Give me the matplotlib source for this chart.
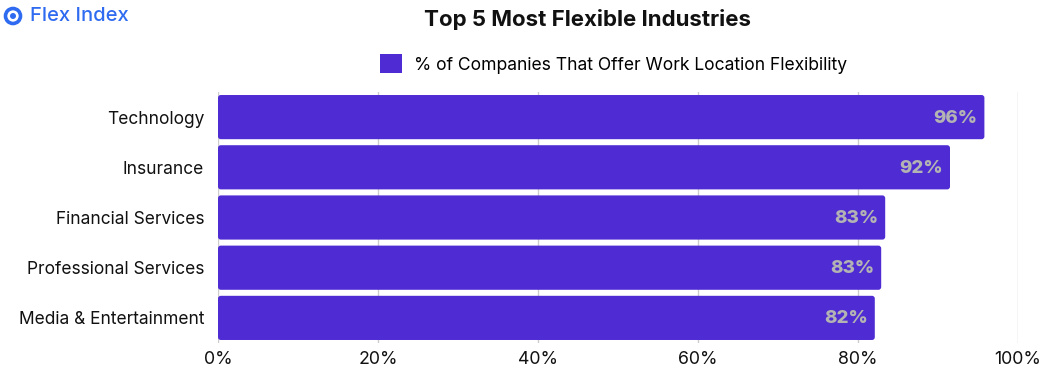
import matplotlib
matplotlib.use("Agg")
import matplotlib.pyplot as plt
from matplotlib.patches import Patch, FancyBboxPatch, Ellipse
from matplotlib.ticker import FuncFormatter

categories = ["Technology", "Insurance", "Financial Services", "Professional Services", "Media & Entertainment"]
values = [95.8, 91.5, 83.4, 82.9, 82.1]
value_labels = ["96%", "92%", "83%", "83%", "82%"]
xticks = [0, 20, 40, 60, 80, 100]
series_name = "% of Companies That Offer Work Location Flexibility"
title = "Top 5 Most Flexible Industries"

BAR = "#4F2BD3"
plt.rcParams['font.family'] = ['Inter', 'DejaVu Sans']

fig = plt.figure(figsize=(10.44, 3.70), dpi=100)
W, H = 1044, 370
ax = fig.add_axes([218 / W, 27 / H, 800 / W, 251 / H])

y = list(range(len(categories)))
bars = ax.barh(y, values, height=0.88, color=BAR, zorder=2)
px_x = 800 / 100.0
px_y = 251 / 5.0
for b in bars:
    x0, y0 = b.get_x(), b.get_y()
    w, h = b.get_width(), b.get_height()
    b.set_visible(False)
    r = 0.35
    fb = FancyBboxPatch((x0, y0), w, h,
                        boxstyle=f"round,pad=0,rounding_size={r}",
                        mutation_aspect=px_x / px_y,
                        facecolor=BAR, edgecolor="none", zorder=2)
    ax.add_patch(fb)

for yi, v, lab in zip(y, values, value_labels):
    ax.text(v - 0.9, yi + 0.02, lab, ha="right", va="center", color="#B3B3B3",
            fontsize=13.5, fontweight="heavy", zorder=3)

ax.set_xlim(0, 100)
ax.set_ylim(4.5, -0.5)
ax.set_xticks(xticks)
ax.xaxis.set_major_formatter(FuncFormatter(lambda v, p: f"{int(v)}%"))
ax.set_yticks(y)
ax.set_yticklabels(categories)
ax.tick_params(axis="both", length=0, colors="#111111")
ax.tick_params(axis="x", pad=6, labelsize=12.8)
ax.tick_params(axis="y", pad=10, labelsize=12.5)
ax.grid(axis="x", color="#CCCCCC", linewidth=1, zorder=0)
ax.set_axisbelow(True)
for s in ax.spines.values():
    s.set_visible(False)

fig.text(587 / W, 1 - 20 / H, title, ha="center", va="center",
         fontsize=16, fontweight="bold", color="#111111")

fig.legend(handles=[Patch(facecolor=BAR, edgecolor="none", label=series_name)],
           loc="center", bbox_to_anchor=(614 / W, 1 - 64 / H), frameon=False,
           fontsize=12.6, handlelength=1.25, handleheight=1.25, handletextpad=0.7)

# logo
fig.patches.append(Ellipse((13 / W, 1 - 16 / H), 15 / W, 15 / H, transform=fig.transFigure,
                           facecolor="none", edgecolor="#2F6BF0", linewidth=2.6))
fig.patches.append(Ellipse((13 / W, 1 - 16 / H), 6 / W, 6 / H, transform=fig.transFigure,
                           facecolor="#2F6BF0", edgecolor="none"))
fig.text(30 / W, 1 - 16 / H, "Flex Index", ha="left", va="center",
         fontsize=14.5, color="#2F6BF0", fontweight="medium")

fig.savefig("out.png", dpi=100)
